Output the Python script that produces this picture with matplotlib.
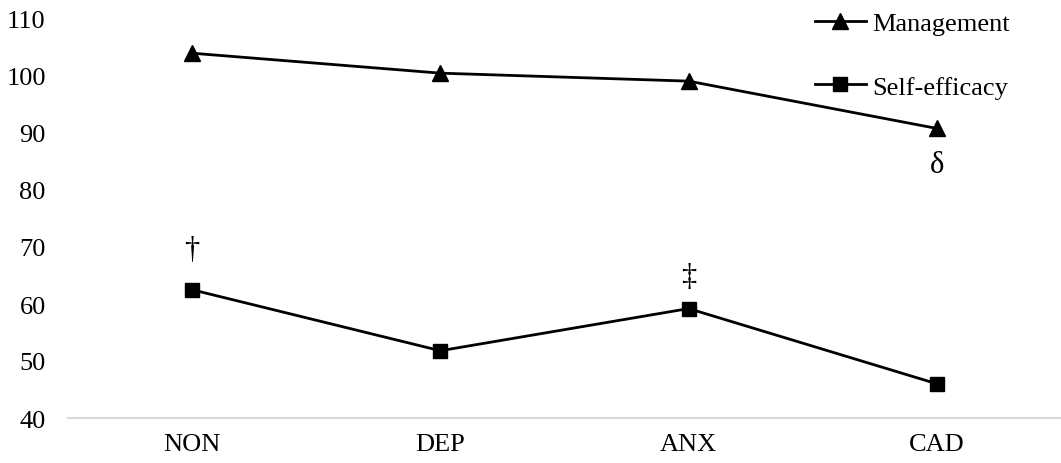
import matplotlib
matplotlib.use("Agg")
import matplotlib.pyplot as plt

categories = ["NON", "DEP", "ANX", "CAD"]
management = [104.0, 100.5, 99.1, 90.8]
self_efficacy = [62.5, 51.8, 59.2, 46.0]
annotations = [("NON", 69.5, "\u2020"), ("ANX", 64.8, "\u2021"), ("CAD", 84.5, "\u03b4")]
yticks = [40, 50, 60, 70, 80, 90, 100, 110]

plt.rcParams['font.family'] = ['Liberation Serif', 'DejaVu Serif']

fig = plt.figure(figsize=(10.61, 4.64), dpi=100)
ax = fig.add_axes([68/1061, 1-419/464, 1-68/1061, (419-20)/464])

x = list(range(len(categories)))
ax.plot(x, management, color='black', lw=2, marker='^', markersize=12, label='Management')
ax.plot(x, self_efficacy, color='black', lw=2, marker='s', markersize=9.5, label='Self-efficacy')

for cat, yv, s in annotations:
    ax.text(categories.index(cat), yv, s, ha='center', va='center', fontsize=22)

ax.set_xlim(-0.5, len(categories) - 0.5)
ax.set_ylim(40, 110)
ax.set_yticks(yticks)
ax.set_xticks(x)
ax.set_xticklabels(categories)
ax.tick_params(axis='both', length=0, labelsize=19)
ax.tick_params(axis='y', pad=16)
ax.tick_params(axis='x', pad=11)
for sp in ['top', 'right', 'left']:
    ax.spines[sp].set_visible(False)
ax.spines['bottom'].set_color('#d9d9d9')
ax.spines['bottom'].set_linewidth(1.5)

leg = fig.legend(loc='upper left', bbox_to_anchor=(815/1061, 1 - 13/464), frameon=False,
                 fontsize=19, handlelength=1.93, handletextpad=0.23, labelspacing=1.5,
                 borderpad=0, borderaxespad=0)

fig.savefig("out.png", dpi=100)
